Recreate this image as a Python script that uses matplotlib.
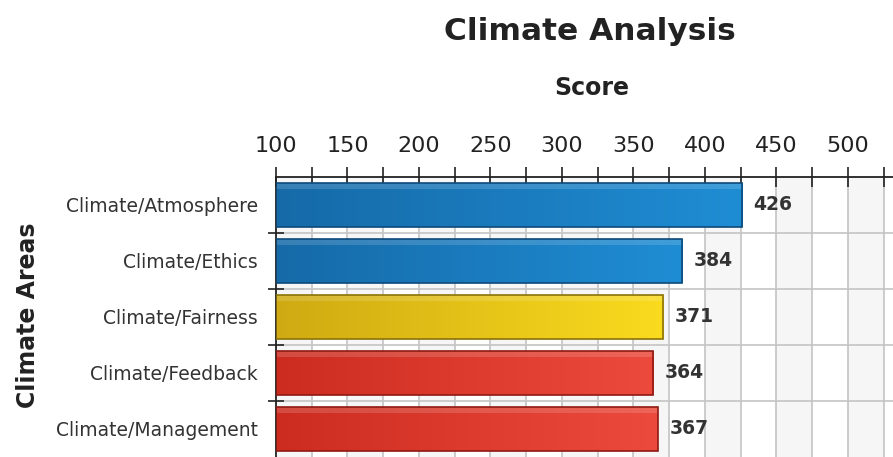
import matplotlib.pyplot as plt
import numpy as np
from matplotlib.colors import LinearSegmentedColormap

# The values
areas = ['Climate/Atmosphere', 'Climate/Ethics', 'Climate/Fairness',
         'Climate/Feedback', 'Climate/Management']
scores = [426, 384, 371, 364, 367]
bar_colors = [('#166aa8', '#1f8dd4'), ('#166aa8', '#1f8dd4'),
              ('#cfaa12', '#fadb1e'), ('#cc2c20', '#ec4a3c'),
              ('#cc2c20', '#ec4a3c')]
edge_colors = ['#0d4a7a', '#0d4a7a', '#8a7208', '#8e1a12', '#8e1a12']
x_ticks = [100, 150, 200, 250, 300, 350, 400, 450, 500]

fig = plt.figure(figsize=(8.93, 4.57), dpi=100)
ax = fig.add_axes([0.309, 0.0, 0.691, 0.6127])

x_min, x_max = 100, 531.5
n = len(areas)

# alternating background bands
for start in np.arange(x_min, x_max, 50):
    ax.axvspan(start, start + 25, color='#f6f6f6', zorder=0, lw=0)

# grid
for v in np.arange(x_min + 25, x_max, 25):
    ax.axvline(v, color='#c4c4c4', lw=1.2, zorder=1)
for b in np.arange(0.5, n - 0.5, 1):
    ax.axhline(b, color='#c4c4c4', lw=1.2, zorder=1)

# bars with a left-to-right gradient
h = 0.8
for i, (name, val) in enumerate(zip(areas, scores)):
    dark, light = bar_colors[i]
    cmap = LinearSegmentedColormap.from_list('g%d' % i, [dark, light])
    bar = ax.barh(i, val - x_min, left=x_min, height=h, color='none',
                  edgecolor=edge_colors[i], lw=1.2, zorder=3)[0]
    grad = np.linspace(0, 1, 256).reshape(1, -1)
    im = ax.imshow(grad, cmap=cmap, aspect='auto',
                   extent=(x_min, val, i + h / 2, i - h / 2), zorder=2)
    im.set_clip_path(bar)
    # soft highlight along the top of the bar
    ax.barh(i - h / 2 + 0.06, val - x_min, left=x_min, height=0.12,
            color='white', alpha=0.15, lw=0, zorder=2.5)
    ax.text(val + 8, i, str(val), va='center', ha='left', fontsize=13.5,
            fontweight='bold', color='#333333', zorder=4)

ax.set_xlim(x_min, x_max)
ax.set_ylim(n - 0.5, -0.5)

# top axis
ax.xaxis.tick_top()
ax.set_xticks(x_ticks)
ax.set_xticks(np.arange(125, x_max, 50), minor=True)
ax.tick_params(axis='x', which='both', direction='inout', length=14,
               width=1.2, color='#222222', labelsize=16, pad=8,
               labelcolor='#222222', top=True, bottom=False)

ax.set_yticks(range(n))
ax.set_yticklabels(areas, fontsize=13.5, color='#333333')
ax.set_yticks(np.arange(0.5, n - 0.5, 1), minor=True)
ax.tick_params(axis='y', which='major', length=0, pad=13)
ax.tick_params(axis='y', which='minor', direction='inout', length=12,
               width=1.2, color='#222222')

for side in ['right', 'bottom']:
    ax.spines[side].set_visible(False)
ax.spines['top'].set_color('#222222')
ax.spines['top'].set_linewidth(1.3)
ax.spines['left'].set_color('#222222')
ax.spines['left'].set_linewidth(1.3)

# The labels
fig.text(0.661, 0.93, 'Climate Analysis', ha='center', va='center',
         fontsize=22.5, fontweight='bold', color='#222222')
fig.text(0.663, 0.808, 'Score', ha='center', va='center',
         fontsize=17, fontweight='bold', color='#222222')
fig.text(0.031, 0.31, 'Climate Areas', ha='center', va='center',
         rotation=90, fontsize=17, fontweight='bold', color='#222222')

fig.savefig('out.png', dpi=100)
